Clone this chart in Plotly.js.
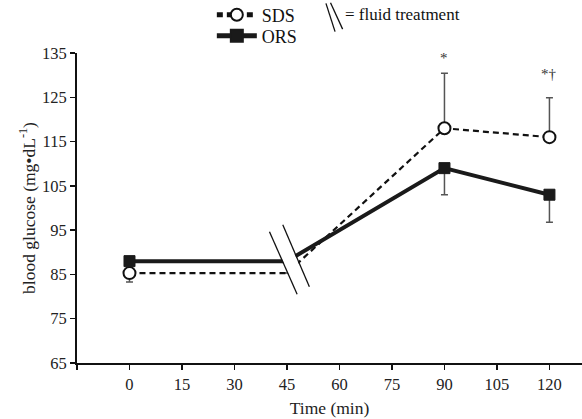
<!DOCTYPE html>
<html>
<head>
<meta charset="utf-8">
<script src="https://cdn.plot.ly/plotly-3.0.1.min.js"></script>
<style>html,body{margin:0;padding:0;background:#fff;}</style>
</head>
<body>
<div id="chart" style="width:582px;height:419px;"></div>
<script>
// ---- data ----
const timeMin = [0, 45, 90, 120];
const sdsGlucose = [85.3, 85.3, 118, 116];
const sdsErrUp = [0, 0, 12.4, 8.9];
const sdsErrDown = [2, 0, 0, 0];
const orsGlucose = [88, 88, 109, 103];
const orsErrUp = [0, 0, 0, 0];
const orsErrDown = [0, 0, 6, 6.2];
const xTickVals = [0, 15, 30, 45, 60, 75, 90, 105, 120];
const xTickText = ['0', '15', '30', '45', '60', '75', '90', '105', '120'];
const xOriginTick = [-15];
const yTickVals = [65, 75, 85, 95, 105, 115, 125, 135];
const breakTime = 45;

const FONT = '"Liberation Serif", "Times New Roman", serif';
const sizes = timeMin.map(t => t === breakTime ? 0 : 12);

const sds = {
  name: 'SDS', x: timeMin, y: sdsGlucose, mode: 'lines+markers', legend: 'legend',
  line: {color: '#111', width: 2.2, dash: '6px,4px'},
  marker: {symbol: 'circle', size: sizes, opacity: 1, color: '#fff', line: {color: '#111', width: 2}},
  error_y: {type: 'data', symmetric: false, array: sdsErrUp, arrayminus: sdsErrDown,
            color: '#555', thickness: 1.5, width: 3.5}
};
const ors = {
  name: 'ORS', x: timeMin, y: orsGlucose, mode: 'lines+markers', legend: 'legend2',
  line: {color: '#1a1a1a', width: 4},
  marker: {symbol: 'square', size: sizes.map(s => s ? 11 : 0), opacity: 1, color: '#1a1a1a', line: {color: '#1a1a1a', width: 1}},
  error_y: {type: 'data', symmetric: false, array: orsErrUp, arrayminus: orsErrDown,
            color: '#555', thickness: 1.5, width: 3.5}
};

const legendCommon = {
  orientation: 'v', xanchor: 'left', yanchor: 'middle', bgcolor: 'rgba(0,0,0,0)',
  font: {family: FONT, size: 18, color: '#111'}, itemsizing: 'constant', itemwidth: 40, borderwidth: 0
};

const layout = {
  width: 582, height: 419,
  margin: {l: 77, r: 0, t: 53, b: 56, autoexpand: false},
  paper_bgcolor: '#fff', plot_bgcolor: '#fff',
  font: {family: FONT, size: 16, color: '#222'},
  showlegend: true,
  legend: Object.assign({x: 0.267, y: 1.1226}, legendCommon),
  legend2: Object.assign({x: 0.267, y: 1.0548}, legendCommon),
  xaxis: {
    range: [-15, 129.3], tickvals: xTickVals, ticktext: xTickText,
    ticks: 'outside', ticklen: 5, tickwidth: 1.5, tickcolor: '#111',
    minor: {tickvals: xOriginTick, ticks: 'outside', ticklen: 5, tickwidth: 1.5, tickcolor: '#111', showgrid: false},
    showline: true, linecolor: '#111', linewidth: 2, showgrid: false, zeroline: false,
    tickfont: {family: FONT, size: 16.5, color: '#222'},
    title: {text: 'Time (min)', font: {family: FONT, size: 17.5, color: '#222'}, standoff: 9}
  },
  yaxis: {
    range: [65, 135], tickvals: yTickVals,
    ticks: 'outside', ticklen: 5, tickwidth: 1.5, tickcolor: '#111',
    showline: true, linecolor: '#111', linewidth: 2, showgrid: false, zeroline: false,
    tickfont: {family: FONT, size: 16.5, color: '#222'},
    title: {text: 'blood glucose (mg\u2022dL<sup>-1</sup>)', font: {family: FONT, size: 17.5, color: '#222'}, standoff: 2}
  },
  shapes: [
    // axis break: white gap then two slanted lines
    {type: 'path', xref: 'x', yref: 'y', layer: 'above',
     path: 'M 40.3,94.4 L 43.5,96.4 L 51.1,82.4 L 48.1,80.3 Z',
     fillcolor: '#fff', line: {width: 0}},
    {type: 'line', xref: 'x', yref: 'y', layer: 'above', x0: 40.0, y0: 94.65, x1: 47.9, y1: 80.5,
     line: {color: '#111', width: 1.3}},
    {type: 'line', xref: 'x', yref: 'y', layer: 'above', x0: 43.8, y0: 96.2, x1: 51.4, y1: 82.2,
     line: {color: '#111', width: 1.3}},
    // "\\" symbol in the key
    {type: 'line', xref: 'paper', yref: 'paper', x0: 0.493, y0: 1.160, x1: 0.511, y1: 1.069,
     line: {color: '#111', width: 1.3}},
    {type: 'line', xref: 'paper', yref: 'paper', x0: 0.502, y0: 1.162, x1: 0.526, y1: 1.077,
     line: {color: '#111', width: 1.3}}
  ],
  annotations: [
    {xref: 'paper', yref: 'paper', x: 0.527, y: 1.1226, xanchor: 'left', yanchor: 'middle',
     text: '= fluid treatment', showarrow: false, font: {family: FONT, size: 17, color: '#111'}},
    {xref: 'x', yref: 'y', x: timeMin[2], y: sdsGlucose[2] + sdsErrUp[2], yanchor: 'bottom', yshift: 5,
     text: '*', showarrow: false, font: {family: FONT, size: 15, color: '#333'}},
    {xref: 'x', yref: 'y', x: timeMin[3], y: sdsGlucose[3] + sdsErrUp[3], yanchor: 'bottom', yshift: 14,
     text: '*\u2020', showarrow: false, font: {family: FONT, size: 15, color: '#333'}}
  ]
};

Plotly.newPlot('chart', [sds, ors], layout, {displayModeBar: false, staticPlot: true});
</script>
</body>
</html>
